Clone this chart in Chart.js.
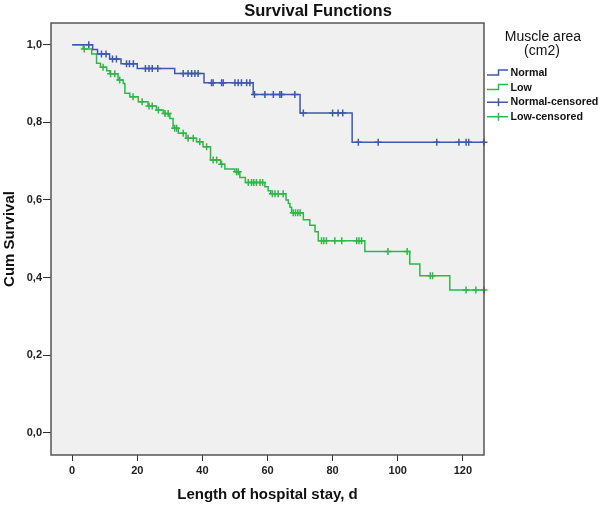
<!DOCTYPE html>
<html lang="en">
<head>
  <meta charset="utf-8">
  <title>Survival Functions</title>
  <script src="https://cdn.jsdelivr.net/npm/chart.js"></script>
  <style>
    body { margin: 0; background: #fff; }
  </style>
</head>
<body>
  <canvas id="survivalChart" width="600" height="506"></canvas>

  <script>
    // Kaplan-Meier steps: time (d) and cum survival after each drop
    const normalTimes = [0, 6.3, 7.8, 11.5, 15.0, 20.0, 31.5, 40.5, 55.6, 70.0, 86.0, 126.5];
    const normalSurv  = [1.000, 0.988, 0.976, 0.963, 0.951, 0.939, 0.926, 0.902, 0.872, 0.824, 0.749, 0.749];

    const lowTimes = [0, 3.4, 6.0, 7.5, 8.7, 10.6, 11.6, 14.1, 15.7, 16.2, 17.7, 20.3, 23.3, 25.9, 28.0,
      30.0, 31.0, 32.6, 35.0, 38.2, 40.2, 42.5, 45.6, 46.9, 50.0, 51.5, 53.2, 59.2, 60.2, 61.0,
      65.7, 66.4, 66.9, 67.4, 71.0, 73.0, 74.6, 75.6, 89.9, 103.7, 106.8, 116.0, 126.5];
    const lowSurv = [1.000, 0.989, 0.976, 0.952, 0.942, 0.933, 0.925, 0.909, 0.900, 0.875, 0.866, 0.853, 0.842, 0.832, 0.823,
      0.810, 0.785, 0.772, 0.759, 0.750, 0.737, 0.703, 0.692, 0.680, 0.673, 0.658, 0.645, 0.634, 0.624, 0.616,
      0.600, 0.591, 0.581, 0.567, 0.549, 0.535, 0.518, 0.495, 0.467, 0.435, 0.405, 0.368, 0.368];

    // censored cases (+ marks)
    const normalCensTimes = [5.1, 9.0, 10.4, 12.4, 13.6, 16.7, 17.6, 18.8, 22.5, 23.6, 24.6, 26.3,
      34.1, 35.6, 36.7, 37.7, 38.7, 42.8, 43.3, 45.9, 46.4, 50.0, 51.0, 52.0, 53.6, 54.6,
      56.0, 59.2, 61.8, 63.8, 64.3, 68.4, 71.0, 80.0, 81.7, 83.1, 87.9, 94.0, 112.0, 118.8, 121.0, 121.8, 126.5];
    const normalCensSurv = [1.000, 0.976, 0.976, 0.963, 0.963, 0.951, 0.951, 0.951, 0.939, 0.939, 0.939, 0.939,
      0.926, 0.926, 0.926, 0.926, 0.926, 0.902, 0.902, 0.902, 0.902, 0.902, 0.902, 0.902, 0.902, 0.902,
      0.872, 0.872, 0.872, 0.872, 0.872, 0.872, 0.824, 0.824, 0.824, 0.824, 0.749, 0.749, 0.749, 0.749, 0.749, 0.749, 0.749];

    const lowCensTimes = [3.7, 9.5, 11.8, 13.1, 14.6, 18.7, 21.5, 23.6, 24.6, 26.5, 28.5, 29.5, 31.5, 32.1,
      34.1, 35.6, 37.2, 39.2, 41.3, 43.3, 44.4, 45.9, 50.5, 51.0, 54.1, 55.1, 55.8, 56.6, 57.7, 58.5,
      61.5, 62.3, 63.3, 64.8, 67.9, 68.6, 69.3, 70.0, 76.6, 77.3, 78.1, 80.7, 82.8, 87.4, 88.1, 88.9,
      97.0, 102.9, 110.0, 110.7, 121.0, 124.0, 126.5];
    const lowCensSurv = [0.989, 0.942, 0.925, 0.925, 0.909, 0.866, 0.853, 0.842, 0.842, 0.832, 0.823, 0.823, 0.785, 0.785,
      0.772, 0.759, 0.759, 0.750, 0.737, 0.703, 0.703, 0.692, 0.673, 0.673, 0.645, 0.645, 0.645, 0.645, 0.645, 0.645,
      0.616, 0.616, 0.616, 0.616, 0.567, 0.567, 0.567, 0.567, 0.495, 0.495, 0.495, 0.495, 0.495, 0.495, 0.495, 0.495,
      0.467, 0.467, 0.405, 0.405, 0.368, 0.368, 0.368];

    const xTicks = [0, 20, 40, 60, 80, 100, 120];
    const yTicks = [0, 0.2, 0.4, 0.6, 0.8, 1.0];
    const legendTitle = ['Muscle area', '(cm2)'];

    const fontFamily = "'Liberation Sans', Arial, sans-serif";
    const blue = '#3e58ac';
    const green = '#2eb848';

    const toPoints = (xs, ys) => xs.map((x, i) => ({ x, y: ys[i] }));

    // grey data region + frame, title, SPSS-like legend
    const decorPlugin = {
      id: 'decor',
      beforeDraw(chart) {
        const { ctx, chartArea: a } = chart;
        ctx.save();
        ctx.fillStyle = '#f0f0f0';
        ctx.fillRect(a.left, a.top, a.right - a.left, a.bottom - a.top);
        ctx.restore();
      },
      afterDraw(chart) {
        const { ctx, chartArea: a } = chart;
        ctx.save();
        ctx.strokeStyle = '#555';
        ctx.lineWidth = 1.5;
        ctx.strokeRect(a.left, a.top, a.right - a.left, a.bottom - a.top);

        ctx.fillStyle = '#111';
        ctx.textAlign = 'center';
        ctx.textBaseline = 'middle';
        ctx.font = 'bold 16.5px ' + fontFamily;
        ctx.fillText('Survival Functions', 318, 11);

        ctx.font = '14px ' + fontFamily;
        ctx.fillText(legendTitle[0], 543, 37);
        ctx.fillText(legendTitle[1], 542, 51);

        ctx.font = 'bold 10.7px ' + fontFamily;
        ctx.textAlign = 'left';
        chart.data.datasets.forEach((ds, i) => {
          const y = 73 + i * 14.6;
          ctx.strokeStyle = ds.borderColor;
          ctx.lineWidth = 1.5;
          ctx.beginPath();
          if (ds.showLine === false) {
            ctx.moveTo(487, y); ctx.lineTo(508, y);
            ctx.moveTo(498.5, y - 4); ctx.lineTo(498.5, y + 4);
          } else {
            ctx.moveTo(487, y + 2); ctx.lineTo(498.5, y + 2);
            ctx.lineTo(498.5, y - 3); ctx.lineTo(508, y - 3);
          }
          ctx.stroke();
          ctx.fillText(ds.label, 510.5, y);
        });
        ctx.restore();
      }
    };

    new Chart(document.getElementById('survivalChart'), {
      type: 'line',
      data: {
        datasets: [
          { label: 'Normal', data: toPoints(normalTimes, normalSurv), borderColor: blue,
            borderWidth: 1.5, stepped: true, pointRadius: 0, fill: false },
          { label: 'Low', data: toPoints(lowTimes, lowSurv), borderColor: green,
            borderWidth: 1.5, stepped: true, pointRadius: 0, fill: false },
          { label: 'Normal-censored', data: toPoints(normalCensTimes, normalCensSurv), borderColor: blue,
            showLine: false, pointStyle: 'cross', pointRadius: 3.5, pointBorderWidth: 1.5, clip: false },
          { label: 'Low-censored', data: toPoints(lowCensTimes, lowCensSurv), borderColor: green,
            showLine: false, pointStyle: 'cross', pointRadius: 3.5, pointBorderWidth: 1.5, clip: false }
        ]
      },
      options: {
        responsive: false,
        animation: false,
        layout: { padding: { top: 23, right: 116, left: 0, bottom: 0 } },
        plugins: { legend: { display: false }, tooltip: { enabled: false } },
        scales: {
          x: {
            type: 'linear',
            min: -6.5,
            max: 126.5,
            afterBuildTicks: s => { s.ticks = xTicks.map(v => ({ value: v })); },
            afterFit: s => { s.height = 51; },
            grid: { display: true, drawOnChartArea: false, drawTicks: true, tickLength: 6, color: '#333' },
            border: { display: false },
            ticks: { color: '#222', padding: 3, font: { family: fontFamily, size: 11, weight: 'bold' } },
            title: {
              display: true, text: 'Length of hospital stay, d', color: '#111',
              padding: { top: 0, bottom: 2 },
              font: { family: fontFamily, size: 15, weight: 'bold' }
            }
          },
          y: {
            type: 'linear',
            min: -0.057,
            max: 1.056,
            afterBuildTicks: s => { s.ticks = yTicks.map(v => ({ value: v })); },
            afterFit: s => { s.width = 51; },
            grid: { display: true, drawOnChartArea: false, drawTicks: true, tickLength: 8, color: '#333' },
            border: { display: false },
            ticks: {
              color: '#222', padding: 1,
              font: { family: fontFamily, size: 11, weight: 'bold' },
              callback: v => v.toFixed(1).replace('.', ',')
            },
            title: {
              display: true, text: 'Cum Survival', color: '#111',
              padding: { top: 1, bottom: 0 },
              font: { family: fontFamily, size: 15, weight: 'bold' }
            }
          }
        }
      },
      plugins: [decorPlugin]
    });
  </script>
</body>
</html>
